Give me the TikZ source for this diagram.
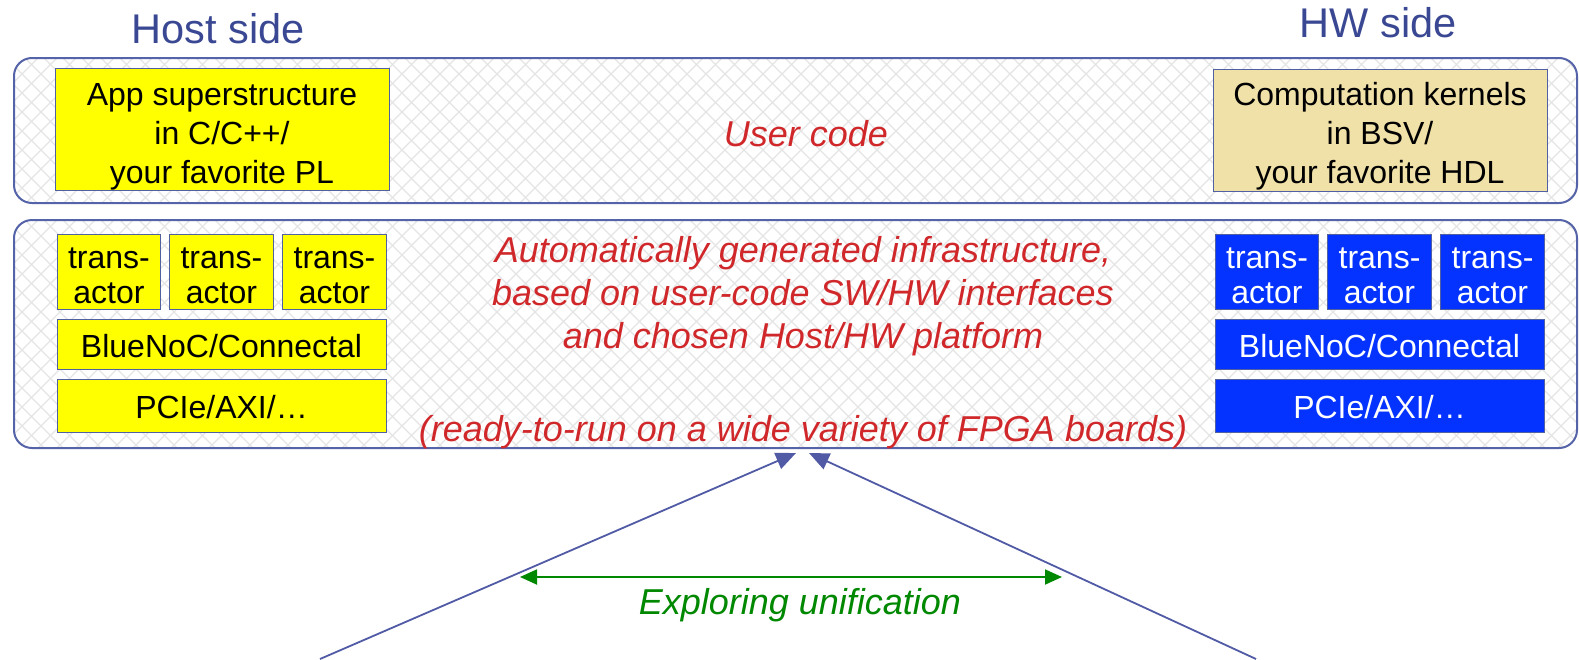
\documentclass[tikz,border=0pt]{standalone}
\usepackage{fontspec}
\setmainfont{Liberation Sans}
\usetikzlibrary{arrows.meta}

\definecolor{framecol}{HTML}{5563A8}
\definecolor{titlecol}{HTML}{3A4894}
\definecolor{linkcol}{HTML}{505AA5}
\definecolor{usercol}{HTML}{D0282A}
\definecolor{explcol}{HTML}{008800}
\definecolor{hostfill}{HTML}{FFFF00}
\definecolor{hwfill}{HTML}{0433FF}
\definecolor{kernfill}{HTML}{F0E1A9}
\definecolor{hatchcol}{HTML}{E4E4E4}
\definecolor{edgecol}{HTML}{5060A0}

\tikzset{
  panel/.style={draw=framecol, line width=2pt, rounded corners=18pt},
  boxbase/.style={draw=edgecol, line width=1pt, inner sep=0pt},
  hostbox/.style={boxbase, fill=hostfill},
  kernbox/.style={boxbase, fill=kernfill},
  hwbox/.style={boxbase, fill=hwfill},
  bigtext/.style={align=center, inner sep=0pt, font=\fontsize{32}{39}\selectfont},
  xtext/.style={align=center, inner sep=0pt, font=\fontsize{32}{35}\selectfont},
  xactor/.style={minimum width=103.5pt, minimum height=75pt},
  busbox/.style={minimum width=329pt},
  sidetitle/.style={anchor=base, text=titlecol, font=\fontsize{41.5}{48}\selectfont},
  redtext/.style={anchor=base, text=usercol, font=\fontsize{36}{43}\selectfont\itshape},
  link/.style={draw=linkcol, line width=1.8pt, -{Triangle[length=20pt,width=17pt]}},
  explore/.style={draw=explcol, line width=1.8pt,
    {Triangle[length=17pt,width=15pt]}-{Triangle[length=17pt,width=15pt]}}
}

% diamond lattice fill for a panel whose top edge is at #1
\newcommand{\hatchfill}[1]{%
  \foreach \c in {-260,-241,...,1600}{%
    \draw[hatchcol, line width=1.3pt] (\c,#1) -- ++(260,260);
    \draw[hatchcol, line width=1.3pt] (\c+260,#1) -- ++(-260,260);
  }%
}

\begin{document}
\begin{tikzpicture}[x=1pt, y=-1pt]
\useasboundingbox (0,0) rectangle (1579,659);

% side titles
\node[sidetitle] (hosttitle) at (218,43) {Host side};
\node[sidetitle] (hwtitle) at (1378,37) {HW side};

% user-code panel
\begin{scope}
  \clip[rounded corners=18pt] (14,58) rectangle (1577,203);
  \hatchfill{58}
\end{scope}
\draw[panel] (14,58) rectangle (1577,203);

% infrastructure panel
\begin{scope}
  \clip[rounded corners=18pt] (14,220) rectangle (1577,448);
  \hatchfill{220}
\end{scope}
\draw[panel] (14,220) rectangle (1577,448);

% user code
\node[hostbox, minimum width=334pt, minimum height=122pt] (app) at (222,129) {};
\node[bigtext, yshift=-8pt] (apptext) at (app)
  {App superstructure\\in C/C++/\\your favorite PL};
\node[kernbox, minimum width=334pt, minimum height=122pt] (kern) at (1380,130) {};
\node[bigtext, yshift=-6pt] (kerntext) at (kern)
  {Computation kernels\\in BSV/\\your favorite HDL};
\node[redtext] (user) at (806,146) {User code};

% host-side infrastructure
\foreach \n/\x in {hx1/109, hx2/221.5, hx3/334.5}{
  \node[hostbox, xactor] (\n) at (\x,271.5) {};
  \node[xtext, yshift=-4pt] (\n text) at (\n) {trans-\\actor};
}
\node[hostbox, busbox, minimum height=50pt] (hnoc) at (221.5,344) {};
\node[bigtext, yshift=-2pt] (hnoctext) at (hnoc) {BlueNoC/Connectal};
\node[hostbox, busbox, minimum height=53pt] (hbus) at (221.5,405.5) {};
\node[bigtext, yshift=-2pt] (hbustext) at (hbus) {PCIe/AXI/…};

% HW-side infrastructure
\foreach \n/\x in {wx1/1267, wx2/1379.5, wx3/1492.5}{
  \node[hwbox, xactor] (\n) at (\x,271.5) {};
  \node[xtext, text=white, yshift=-4pt] (\n text) at (\n) {trans-\\actor};
}
\node[hwbox, busbox, minimum height=50pt] (wnoc) at (1379.5,344) {};
\node[bigtext, text=white, yshift=-2pt] (wnoctext) at (wnoc) {BlueNoC/Connectal};
\node[hwbox, busbox, minimum height=53pt] (wbus) at (1379.5,405.5) {};
\node[bigtext, text=white, yshift=-2pt] (wbustext) at (wbus) {PCIe/AXI/…};

% generated-infrastructure description
\node[redtext] (infoA) at (803,262) {Automatically generated infrastructure,};
\node[redtext] (infoB) at (803,305) {based on user-code SW/HW interfaces};
\node[redtext] (infoC) at (803,348) {and chosen Host/HW platform};
\node[redtext] (ready) at (803,441) {(ready-to-run on a wide variety of FPGA boards)};

% converging links from below
\coordinate (lfoot) at (320,659);
\coordinate (rfoot) at (1256,659);
\coordinate (ltip) at (796,453);
\coordinate (rtip) at (809,453);
\draw[link] (lfoot) -- (ltip);
\draw[link] (rfoot) -- (rtip);

% unification span
\coordinate (eleft) at (520,577);
\coordinate (eright) at (1062,577);
\draw[explore] (eleft) -- (eright);
\node[anchor=base, text=explcol, font=\fontsize{36}{43}\selectfont\itshape] (explabel)
  at (800,614) {Exploring unification};
\end{tikzpicture}
\end{document}
